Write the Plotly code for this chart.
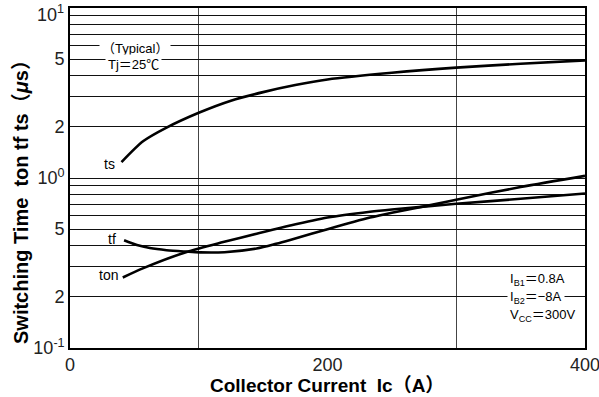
import math
import plotly.graph_objects as go

# Collector current (A) and switching times (us)
ts_x = [40, 57, 75, 100, 125, 150, 175, 200, 250, 300, 350, 400]
ts_y = [1.24, 1.65, 1.98, 2.42, 2.85, 3.2, 3.52, 3.8, 4.16, 4.46, 4.7, 4.92]

tf_x = [42, 52, 62, 75, 90, 101, 120, 145, 160, 171, 200, 233, 250, 279, 300, 350, 400]
tf_y = [0.43, 0.403, 0.387, 0.376, 0.369, 0.365, 0.366, 0.385, 0.41, 0.432, 0.50, 0.585, 0.625, 0.69, 0.745, 0.885, 1.03]

ton_x = [41, 57, 90, 119, 145, 171, 200, 233, 250, 279, 300, 350, 400]
ton_y = [0.26, 0.295, 0.366, 0.42, 0.47, 0.525, 0.585, 0.633, 0.653, 0.683, 0.705, 0.755, 0.81]

x_ticks = [0, 200, 400]
x_ticklabels = ["0", "200", "400"]
y_ticks = [0.1, 0.2, 0.5, 1, 2, 5, 10]
y_ticklabels = ["10<sup>-1</sup>", "2", "5", "10<sup>0</sup>", "2", "5", ""]
top_ticklabel = "10<sup>1</sup>"

FONT = "Liberation Sans, Arial, Noto Sans CJK JP, sans-serif"

fig = go.Figure()
for xs, ys in [(ts_x, ts_y), (tf_x, tf_y), (ton_x, ton_y)]:
    fig.add_trace(go.Scatter(x=xs, y=ys, mode="lines",
                             line=dict(color="black", width=2.6, shape="spline", smoothing=0.8),
                             showlegend=False, hoverinfo="skip"))

minor_y = [m * d for d in (0.1, 1) for m in range(2, 10)]

fig.update_layout(
    width=599, height=397,
    margin=dict(l=70, r=14, t=8, b=49, autoexpand=False),
    paper_bgcolor="white", plot_bgcolor="white",
    font=dict(family=FONT, color="black"),
    xaxis=dict(range=[0, 400], tickvals=x_ticks, ticktext=x_ticklabels, automargin=False,
               showgrid=False, zeroline=False,
               showline=True, mirror=True, linecolor="black", linewidth=1.6,
               ticks="", tickfont=dict(size=18, color="#222"), ticklabeloverflow="allow",
               minor=dict(tickvals=[100, 300], showgrid=True, gridcolor="#444", gridwidth=1.3, ticks="")),
    yaxis=dict(type="log", range=[-1, 1], tickvals=y_ticks, ticktext=y_ticklabels, automargin=False,
               showgrid=True, gridcolor="#111", gridwidth=1.1,
               zeroline=False, showline=True, mirror=True, linecolor="black", linewidth=1.6,
               ticks="", tickfont=dict(size=18, color="#222"), ticklabeloverflow="allow",
               minor=dict(tickvals=minor_y, showgrid=True, gridcolor="#111", gridwidth=1.1, ticks="")),
)

ann = []
# top y tick label (kept inside the page)
ann.append(dict(text=top_ticklabel, xref="paper", yref="paper", x=(66 - 70) / 515, y=(348 - 0) / 340,
                xanchor="right", yanchor="top", showarrow=False, font=dict(size=18, color="#222")))
# axis titles
ann.append(dict(text="<b>Collector Current  Ic（A）</b>", xref="paper", yref="paper",
                x=(327 - 70) / 515, y=(348 - 385) / 340, xanchor="center", yanchor="middle",
                showarrow=False, font=dict(size=19)))
ann.append(dict(text="<b>Switching Time  ton tf ts（<i>μ</i>s）</b>", xref="paper", yref="paper",
                x=(21 - 70) / 515, y=(348 - 197) / 340, xanchor="center", yanchor="middle",
                textangle=-90, showarrow=False, font=dict(size=20)))
# condition boxes
ann.append(dict(text="（Typical）", xref="paper", yref="paper", x=(135 - 70) / 515, y=(348 - 48) / 340,
                xanchor="center", yanchor="middle", showarrow=False, bgcolor="white", borderpad=2,
                font=dict(size=13)))
ann.append(dict(text="Tj＝25℃", xref="paper", yref="paper", x=(133 - 70) / 515, y=(348 - 65) / 340,
                xanchor="center", yanchor="middle", showarrow=False, bgcolor="white", borderpad=2,
                font=dict(size=13)))
for txt, ypx in [("I<sub>B1</sub>＝0.8A", 279), ("I<sub>B2</sub>＝−8A", 297), ("V<sub>CC</sub>＝300V", 315)]:
    ann.append(dict(text=txt, xref="paper", yref="paper", x=(507 - 70) / 515, y=(348 - ypx) / 340,
                    xanchor="left", yanchor="middle", showarrow=False, bgcolor="white", borderpad=2,
                    font=dict(size=13)))
# curve labels
for txt, xa, yv in [("ts", 31, 1.21), ("tf", 33, 0.44), ("ton", 30, 0.27)]:
    ann.append(dict(text=txt, x=xa, y=math.log10(yv), xref="x", yref="y",
                    xanchor="center", yanchor="middle", showarrow=False, font=dict(size=14)))
fig.update_layout(annotations=ann)

fig.write_html("out.html")
